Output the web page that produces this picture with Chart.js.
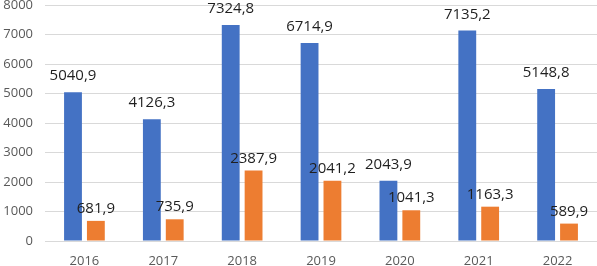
<!DOCTYPE html>
<html>
<head>
<meta charset="utf-8">
<script src="https://cdn.jsdelivr.net/npm/chart.js"></script>
<style>
  html, body { margin: 0; padding: 0; background: #fff; }
  #wrap { width: 597px; height: 266px; position: relative; }
</style>
</head>
<body>
<div id="wrap"><canvas id="chart"></canvas></div>
<script>
    const years = ['2016', '2017', '2018', '2019', '2020', '2021', '2022'];
    const seriesBlue = [5040.9, 4126.3, 7324.8, 6714.9, 2043.9, 7135.2, 5148.8];
    const seriesOrange = [681.9, 735.9, 2387.9, 2041.2, 1041.3, 1163.3, 589.9];
    const yTicks = [0, 1000, 2000, 3000, 4000, 5000, 6000, 7000, 8000];

    // values above bars, comma as decimal separator
    const valueLabels = {
        id: 'valueLabels',
        afterDatasetsDraw(chart) {
            const ctx = chart.ctx;
            ctx.save();
            ctx.font = '15px "Open Sans"';
            ctx.fillStyle = '#1f1f1f';
            ctx.textAlign = 'center';
            ctx.textBaseline = 'alphabetic';
            chart.data.datasets.forEach((ds, i) => {
                const meta = chart.getDatasetMeta(i);
                const gap = i === 0 ? 12 : 8;
                meta.data.forEach((bar, j) => {
                    const txt = ds.data[j].toFixed(1).replace('.', ',');
                    ctx.fillText(txt, bar.x, bar.y - gap);
                });
            });
            ctx.restore();
        }
    };

    const ctx = document.getElementById('chart').getContext('2d');
    new Chart(ctx, {
        type: 'bar',
        data: {
            labels: years,
            datasets: [{
                data: seriesBlue,
                backgroundColor: '#4472C4'
            }, {
                data: seriesOrange,
                backgroundColor: '#ED7D31'
            }]
        },
        options: {
            responsive: true,
            maintainAspectRatio: false,
            animation: false,
            layout: { padding: { top: 5, right: 0, left: 0, bottom: 0 } },
            datasets: {
                bar: {
                    barPercentage: 0.78,
                    categoryPercentage: 0.58
                }
            },
            plugins: {
                legend: { display: false },
                tooltip: { enabled: false }
            },
            scales: {
                x: {
                    grid: { display: false, drawTicks: false },
                    border: { display: true, color: '#d9d9d9' },
                    ticks: {
                        color: '#595959',
                        font: { family: 'Open Sans', size: 13 },
                        padding: 12
                    },
                    afterFit(scale) {
                        scale.height = 25;
                        scale.paddingLeft = 0;
                        scale.paddingRight = 0;
                    }
                },
                y: {
                    min: 0,
                    max: 8000,
                    afterBuildTicks(scale) {
                        scale.ticks = yTicks.map(v => ({ value: v }));
                    },
                    grid: { color: '#d9d9d9', drawTicks: false },
                    border: { display: false },
                    ticks: {
                        color: '#595959',
                        font: { family: 'Open Sans', size: 13 },
                        padding: 12,
                        callback: v => String(v)
                    },
                    afterFit(scale) {
                        scale.width = 45;
                        scale.paddingTop = 0;
                        scale.paddingBottom = 0;
                    }
                }
            }
        },
        plugins: [valueLabels]
    });
</script>
</body>
</html>
